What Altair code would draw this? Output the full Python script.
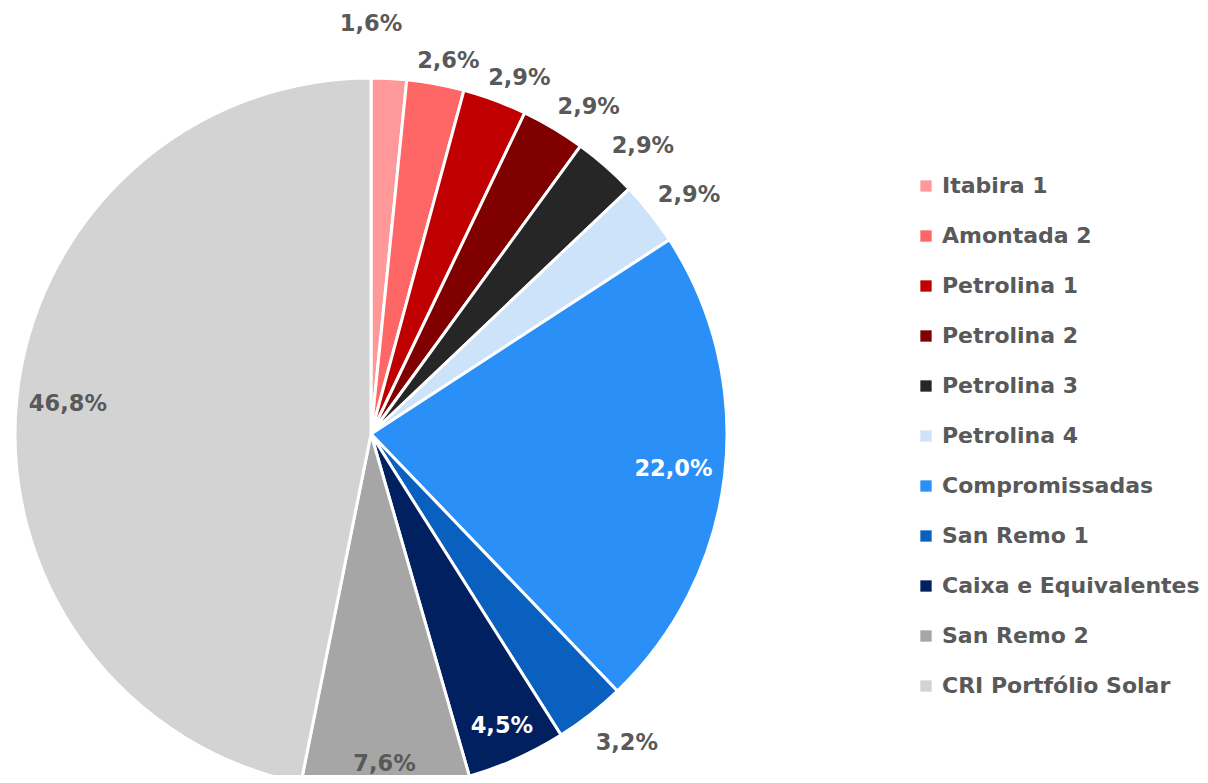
import altair as alt
import pandas as pd

categories = ["Itabira 1", "Amontada 2", "Petrolina 1", "Petrolina 2", "Petrolina 3",
              "Petrolina 4", "Compromissadas", "San Remo 1", "Caixa e Equivalentes",
              "San Remo 2", "CRI Portfólio Solar"]
values = [1.6, 2.6, 2.9, 2.9, 2.9, 2.9, 22.0, 3.2, 4.5, 7.6, 46.8]
colors = ["#FF9999", "#FF6666", "#C00000", "#800000", "#262626", "#CCE3FA",
          "#2A90F7", "#0A60BF", "#002060", "#A6A6A6", "#D3D3D3"]

df = pd.DataFrame({"category": categories, "value": values, "idx": list(range(len(categories)))})
total = float(sum(values))

CX, CY, R = 363, 426, 356
GREY = "#595959"
FONT = "DejaVu Sans"

base = alt.Chart(df).transform_window(
    cum="sum(value)", sort=[alt.SortField("idx", order="ascending")], frame=[None, 0]
).transform_calculate(
    start="datum.cum - datum.value",
    mid="datum.cum - datum.value / 2",
    label="replace(format(datum.value, '.1f'), '.', ',') + '%'",
).transform_calculate(
    ang=f"2 * PI * datum.mid / {total}",
    hw="length(datum.label) * 7.3",
).transform_calculate(
    # outside end: label box sits just outside the rim on the slice's mid ray
    ox="368 * sin(datum.ang) + (sin(datum.ang) >= 0 ? 1 : -1) * datum.hw * min(1, 2 * abs(sin(datum.ang)))",
    oy="-368 * cos(datum.ang) + (cos(datum.ang) >= 0 ? -11 : 19)",
    # inside end: label box kept just inside the rim
    rad_in="342 - datum.hw * abs(sin(datum.ang)) - 11 * abs(cos(datum.ang))",
).transform_calculate(
    oa="atan2(datum.ox, -datum.oy)",
).transform_calculate(
    rad_out="datum.value < 2 ? 410 : sqrt(datum.ox * datum.ox + datum.oy * datum.oy)",
    th_out=f"datum.value < 2 ? datum.start : ((datum.oa < 0 ? datum.oa + 2 * PI : datum.oa) * {total} / (2 * PI))",
)

tscale = alt.Scale(domain=[0, total])

pie = base.mark_arc(outerRadius=R, stroke="white", strokeWidth=3).encode(
    theta=alt.Theta("start:Q", scale=tscale, stack=None),
    theta2="cum:Q",
    x=alt.value(CX),
    y=alt.value(CY),
    color=alt.Color(
        "category:N",
        sort=categories,
        scale=alt.Scale(domain=categories, range=colors),
        legend=alt.Legend(
            orient="none", legendX=907, legendY=167, title=None,
            symbolType="square", symbolSize=128, symbolStrokeWidth=0,
            labelFont=FONT, labelFontSize=22, labelFontWeight="bold",
            labelColor=GREY, labelOffset=5, rowPadding=28, padding=0,
            labelLimit=400,
        ),
    ),
)

outside = base.transform_filter("datum.value < 4").mark_text(
    font=FONT, fontSize=22.5, fontWeight="bold",
    align="center", baseline="middle", color=GREY,
).encode(theta=alt.Theta("th_out:Q", scale=tscale, stack=None),
         radius=alt.Radius("rad_out:Q", scale=None),
         x=alt.value(CX), y=alt.value(CY), text="label:N")

inside = base.transform_filter("datum.value >= 4").mark_text(
    font=FONT, fontSize=22.5, fontWeight="bold",
    align="center", baseline="middle",
).encode(
    theta=alt.Theta("mid:Q", scale=tscale, stack=None),
    radius=alt.Radius("rad_in:Q", scale=None),
    x=alt.value(CX), y=alt.value(CY), text="label:N",
    color=alt.condition(
        alt.FieldOneOfPredicate(field="category", oneOf=["Compromissadas", "Caixa e Equivalentes"]),
        alt.value("white"), alt.value(GREY),
    ),
)

chart = alt.layer(pie, outside, inside).properties(
    width=1192, height=767, autosize="none", padding=0
).configure_view(stroke=None)

chart.save("out.html", embed_options={"renderer": "svg", "actions": False})
